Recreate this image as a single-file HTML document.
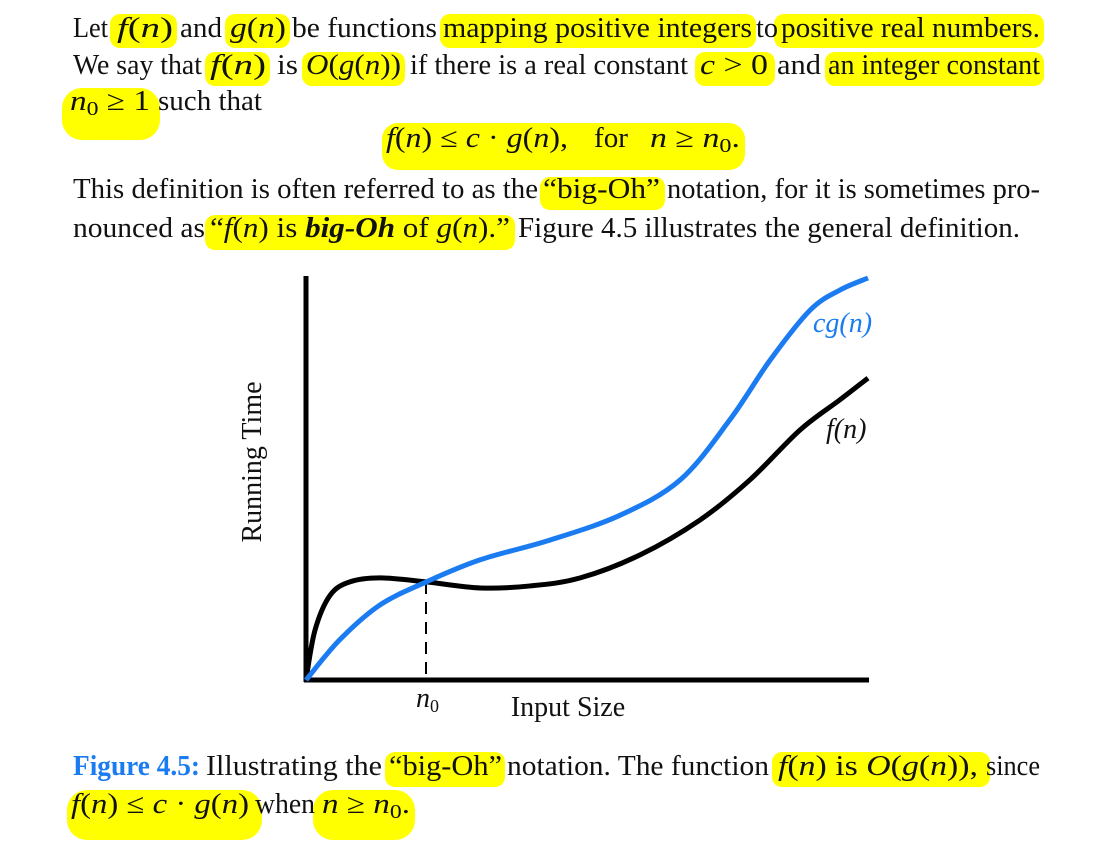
<!DOCTYPE html>
<html><head><meta charset="utf-8"><style>
body{margin:0;background:#fff}
svg{display:block}
.t{font-family:"Liberation Serif",serif;font-size:28px;fill:#111}
.i{font-style:italic}
.hl{fill:#ffff00}
</style></head><body>
<svg width="1111" height="852" viewBox="0 0 1111 852">
<g>
<rect class="hl" x="110" y="14" width="67" height="34" rx="10"/>
<rect class="hl" x="225" y="14" width="65" height="34" rx="10"/>
<rect class="hl" x="440" y="14" width="316" height="34" rx="10"/>
<rect class="hl" x="774" y="14" width="270" height="34" rx="10"/>
<rect class="hl" x="205" y="52" width="65" height="34" rx="10"/>
<rect class="hl" x="302" y="52" width="103" height="34" rx="10"/>
<rect class="hl" x="695" y="52" width="80" height="34" rx="10"/>
<rect class="hl" x="825" y="52" width="219" height="34" rx="10"/>
<rect class="hl" x="62" y="88" width="98" height="52" rx="20"/>
<rect class="hl" x="382" y="123" width="363" height="47" rx="16"/>
<rect class="hl" x="540" y="177" width="125" height="33" rx="10"/>
<rect class="hl" x="205" y="215" width="310" height="35" rx="10"/>
<rect class="hl" x="385" y="752" width="120" height="35" rx="10"/>
<rect class="hl" x="772" y="752" width="218" height="35" rx="10"/>
<rect class="hl" x="67" y="790" width="195" height="50" rx="20"/>
<rect class="hl" x="313" y="790" width="102" height="50" rx="20"/>
</g>
<g>
<text class="t" x="73" y="37" textLength="35" lengthAdjust="spacingAndGlyphs">Let</text>
<text class="t" x="117" y="37" textLength="56" lengthAdjust="spacingAndGlyphs"><tspan class="i">f</tspan>(<tspan class="i">n</tspan>)</text>
<text class="t" x="180" y="37" textLength="42" lengthAdjust="spacingAndGlyphs">and</text>
<text class="t" x="230" y="37" textLength="56" lengthAdjust="spacingAndGlyphs"><tspan class="i">g</tspan>(<tspan class="i">n</tspan>)</text>
<text class="t" x="292" y="37" textLength="145" lengthAdjust="spacingAndGlyphs">be functions</text>
<text class="t" x="443" y="37" textLength="309" lengthAdjust="spacingAndGlyphs">mapping positive integers</text>
<text class="t" x="756" y="37" textLength="22" lengthAdjust="spacingAndGlyphs">to</text>
<text class="t" x="781" y="37" textLength="259" lengthAdjust="spacingAndGlyphs">positive real numbers.</text>

<text class="t" x="73" y="74" textLength="129" lengthAdjust="spacingAndGlyphs">We say that</text>
<text class="t" x="210" y="74" textLength="56" lengthAdjust="spacingAndGlyphs"><tspan class="i">f</tspan>(<tspan class="i">n</tspan>)</text>
<text class="t" x="277" y="74" textLength="21" lengthAdjust="spacingAndGlyphs">is</text>
<text class="t" x="306" y="74" textLength="95" lengthAdjust="spacingAndGlyphs"><tspan class="i">O</tspan>(<tspan class="i">g</tspan>(<tspan class="i">n</tspan>))</text>
<text class="t" x="410" y="74" textLength="278" lengthAdjust="spacingAndGlyphs">if there is a real constant</text>
<text class="t" x="700" y="74" textLength="68" lengthAdjust="spacingAndGlyphs"><tspan class="i">c</tspan> &gt; 0</text>
<text class="t" x="777" y="74" textLength="44" lengthAdjust="spacingAndGlyphs">and</text>
<text class="t" x="828" y="74" textLength="212" lengthAdjust="spacingAndGlyphs">an integer constant</text>

<text class="t" x="70" y="110" textLength="80" lengthAdjust="spacingAndGlyphs"><tspan class="i">n</tspan><tspan font-size="20" dy="5">0</tspan><tspan dy="-5"> ≥ 1</tspan></text>
<text class="t" x="158" y="110" textLength="104" lengthAdjust="spacingAndGlyphs">such that</text>

<text class="t" x="386" y="147" textLength="182" lengthAdjust="spacingAndGlyphs"><tspan class="i">f</tspan>(<tspan class="i">n</tspan>) ≤ <tspan class="i">c</tspan> · <tspan class="i">g</tspan>(<tspan class="i">n</tspan>),</text>
<text class="t" x="594" y="147" textLength="34" lengthAdjust="spacingAndGlyphs">for</text>
<text class="t" x="650" y="147" textLength="90" lengthAdjust="spacingAndGlyphs"><tspan class="i">n</tspan> ≥ <tspan class="i">n</tspan><tspan font-size="20" dy="5">0</tspan><tspan dy="-5">.</tspan></text>

<text class="t" x="73" y="198" textLength="465" lengthAdjust="spacingAndGlyphs">This definition is often referred to as the</text>
<text class="t" x="543" y="198" textLength="117" lengthAdjust="spacingAndGlyphs">“big-Oh”</text>
<text class="t" x="667" y="198" textLength="373" lengthAdjust="spacingAndGlyphs">notation, for it is sometimes pro-</text>

<text class="t" x="73" y="237" textLength="132" lengthAdjust="spacingAndGlyphs">nounced as</text>
<text class="t" x="210" y="237" textLength="300" lengthAdjust="spacingAndGlyphs">“<tspan class="i">f</tspan>(<tspan class="i">n</tspan>) is <tspan class="i" font-weight="bold">big-Oh</tspan> of <tspan class="i">g</tspan>(<tspan class="i">n</tspan>).”</text>
<text class="t" x="518" y="237" textLength="502" lengthAdjust="spacingAndGlyphs">Figure 4.5 illustrates the general definition.</text>
</g>
<g id="chart">
<line x1="306" y1="276" x2="306" y2="682" stroke="#000" stroke-width="5"/>
<line x1="304" y1="680" x2="869" y2="680" stroke="#000" stroke-width="5"/>
<line x1="426" y1="582" x2="426" y2="680" stroke="#000" stroke-width="2" stroke-dasharray="12,8"/>
<text class="t i" x="416" y="707" font-size="24">n<tspan font-size="18" dy="5" font-style="normal">0</tspan></text>
<text class="t" x="568" y="716" font-size="24" text-anchor="middle">Input Size</text>
<text class="t" x="0" y="0" font-size="24" text-anchor="middle" transform="translate(261,462) rotate(-90)">Running Time</text>
<text class="t i" x="813" y="332" font-size="24" style="fill:#1a7cf0">cg(n)</text>
<text class="t i" x="826" y="438" font-size="24">f(n)</text>
</g>
<g>
<text class="t" x="73" y="775" textLength="127" lengthAdjust="spacingAndGlyphs" font-weight="bold" style="fill:#1a7cf0">Figure 4.5:</text>
<text class="t" x="206" y="775" textLength="176" lengthAdjust="spacingAndGlyphs">Illustrating the</text>
<text class="t" x="389" y="775" textLength="113" lengthAdjust="spacingAndGlyphs">“big-Oh”</text>
<text class="t" x="507" y="775" textLength="262" lengthAdjust="spacingAndGlyphs">notation.  The function</text>
<text class="t" x="778" y="775" textLength="200" lengthAdjust="spacingAndGlyphs"><tspan class="i">f</tspan>(<tspan class="i">n</tspan>) is <tspan class="i">O</tspan>(<tspan class="i">g</tspan>(<tspan class="i">n</tspan>)),</text>
<text class="t" x="986" y="775" textLength="54" lengthAdjust="spacingAndGlyphs">since</text>
<text class="t" x="71" y="813" textLength="178" lengthAdjust="spacingAndGlyphs"><tspan class="i">f</tspan>(<tspan class="i">n</tspan>) ≤ <tspan class="i">c</tspan> · <tspan class="i">g</tspan>(<tspan class="i">n</tspan>)</text>
<text class="t" x="255" y="813" textLength="60" lengthAdjust="spacingAndGlyphs">when</text>
<text class="t" x="322" y="813" textLength="88" lengthAdjust="spacingAndGlyphs"><tspan class="i">n</tspan> ≥ <tspan class="i">n</tspan><tspan font-size="20" dy="5">0</tspan><tspan dy="-5">.</tspan></text>
</g>
</svg>
<script>
const cgX=[0,6,13.2,21.4,31,43.4,55.9,66.6,75.4,82.6,89.7,95,100];
const cgY=[0,10,18.7,24.4,29.9,34.8,41,49.8,64.7,79.6,92,97,100];
const fX=[0,1.6,4.3,7.8,13.2,21.4,31,39.9,48.8,59.4,70.1,79,87.9,95,100];
const fY=[0,12.4,21.1,24.4,25.4,24.4,22.9,23.4,25.4,31.1,39.8,49.8,62.2,69.7,75.1];
const xs=v=>306+v*5.62, ys=v=>680-v*4.02;
function path(X,Y){
  const p=X.map((x,i)=>[xs(x),ys(Y[i])]);
  let d='M'+p[0][0]+','+p[0][1];
  for(let i=0;i<p.length-1;i++){
    const p0=p[Math.max(0,i-1)],p1=p[i],p2=p[i+1],p3=p[Math.min(p.length-1,i+2)];
    const c1=[p1[0]+(p2[0]-p0[0])/6,p1[1]+(p2[1]-p0[1])/6];
    const c2=[p2[0]-(p3[0]-p1[0])/6,p2[1]-(p3[1]-p1[1])/6];
    d+=' C'+c1+' '+c2+' '+p2;
  }
  return d;
}
const g=document.getElementById('chart');
const ns='http://www.w3.org/2000/svg';
const f=document.createElementNS(ns,'path');
f.setAttribute('d',path(fX,fY));f.setAttribute('fill','none');f.setAttribute('stroke','#000');f.setAttribute('stroke-width','5');


g.appendChild(f);
const c=document.createElementNS(ns,'path');
c.setAttribute('d',path(cgX,cgY));c.setAttribute('fill','none');c.setAttribute('stroke','#1a7cf0');c.setAttribute('stroke-width','5');


g.appendChild(c);
</script>
</body></html>
